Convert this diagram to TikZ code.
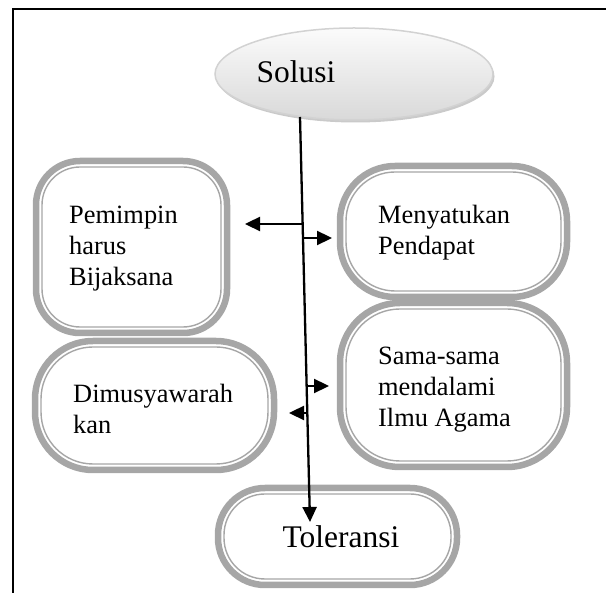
\documentclass[tikz,border=0pt]{standalone}
\usepackage{fontspec}
\setmainfont{Liberation Serif}
\usetikzlibrary{arrows.meta,shapes.geometric,shadows}
\definecolor{boxgray}{RGB}{166,166,166}
\begin{document}
\begin{tikzpicture}[x=1pt,y=-1pt,
  outerbox/.style={draw=boxgray, line width=6.5pt, outer sep=0pt, inner sep=0pt, fill=white},
  innerbox/.style={draw=boxgray, line width=1.4pt},
  txt/.style={font=\fontsize{26.4}{31}\selectfont, align=left, anchor=west, inner sep=0pt},
  bigtxt/.style={font=\fontsize{31.5}{36}\selectfont, inner sep=0pt},
  conn/.style={line width=2.3pt, -{Triangle[length=15pt,width=14pt]}},
  oval/.style={ellipse, draw=gray!35, line width=1.5pt, inner sep=0pt,
    top color=white!97!gray, bottom color=gray!30,
    drop shadow={shadow xshift=1.5pt, shadow yshift=-2.5pt, fill=gray!70, opacity=0.6}},
]
\useasboundingbox (0,0) rectangle (606,593);
% frame
\draw[line width=2.8pt] (13,593) -- (13,9) -- (606,9);

% ellipse
\node[oval, minimum width=278pt, minimum height=92pt] (sol) at (354,74) {};
\node[bigtxt] (soltxt) at (296,72) {Solusi};

% boxes
\node[outerbox, rounded corners=44pt, minimum width=191pt, minimum height=172pt] (b1) at (131.5,247) {};
\draw[innerbox, rounded corners=38pt] ([shift={(6pt,-6pt)}]b1.north west) rectangle ([shift={(-6pt,6pt)}]b1.south east);
\node[txt] (t1) at (69,249) {Pemimpin\\harus\\Bijaksana};

\node[outerbox, rounded corners=55pt, minimum width=227pt, minimum height=131pt] (b2) at (453.5,231.5) {};
\draw[innerbox, rounded corners=49pt] ([shift={(6pt,-6pt)}]b2.north west) rectangle ([shift={(-6pt,6pt)}]b2.south east);
\node[txt] (t2) at (378,233) {Menyatukan\\Pendapat};

\node[outerbox, rounded corners=60pt, minimum width=227pt, minimum height=164pt] (b3) at (453.5,385) {};
\draw[innerbox, rounded corners=54pt] ([shift={(6pt,-6pt)}]b3.north west) rectangle ([shift={(-6pt,6pt)}]b3.south east);
\node[txt] (t3) at (378,390) {Sama-sama\\mendalami\\Ilmu Agama};

\node[outerbox, rounded corners=58pt, minimum width=239pt, minimum height=129pt] (b4) at (154.5,405.5) {};
\draw[innerbox, rounded corners=52pt] ([shift={(6pt,-6pt)}]b4.north west) rectangle ([shift={(-6pt,6pt)}]b4.south east);
\node[txt] (t4) at (73,409) {Dimusyawarah\\kan};

\node[outerbox, rounded corners=47pt, minimum width=239pt, minimum height=97pt] (b5) at (337.5,536.5) {};
\draw[innerbox, rounded corners=41pt] ([shift={(6pt,-6pt)}]b5.north west) rectangle ([shift={(-6pt,6pt)}]b5.south east);
\node[bigtxt] (t5) at (341,537) {Toleransi};

% connectors
\coordinate (ls) at (300,117);
\coordinate (le) at (310,522);
\coordinate (p1) at (303,224);
\coordinate (e1) at (245,224);
\coordinate (p2) at (303,238);
\coordinate (e2) at (332,238);
\coordinate (p3) at (308,386);
\coordinate (e3) at (329,386);
\coordinate (p4) at (306,413);
\coordinate (e4) at (289,413);
\draw[conn] (ls) -- (le);
\draw[conn] (p1) -- (e1);
\draw[conn] (p2) -- (e2);
\draw[conn] (p3) -- (e3);
\draw[conn] (p4) -- (e4);
\end{tikzpicture}
\end{document}
